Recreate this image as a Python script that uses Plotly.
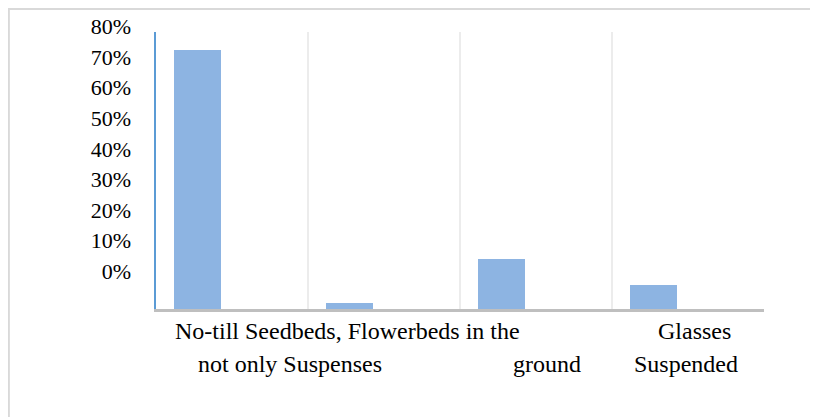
import plotly.graph_objects as go

# survey shares per planting type
categories = ["No-till Seedbeds, not only Suspenses", "Flowerbeds in the ground",
              "Glasses", "Suspended"]
shares = [0.748, 0.017, 0.144, 0.069]

# y-axis labels as printed (they sit a bit off the real scale in the original)
label_ticks = [0.0, 0.1, 0.2, 0.3, 0.4, 0.5, 0.6, 0.7, 0.8]

# category text as it wraps under the axis in the original
x_label_lines = ["No-till Seedbeds, Flowerbeds in the", "not only Suspenses",
                 "ground", "Glasses", "Suspended"]

FONT = "Liberation Serif"
BAR_COLOR = "#8db4e2"

fig = go.Figure()
fig.add_trace(go.Bar(
    x=categories, y=shares, marker_color=BAR_COLOR, marker_line_width=0,
    offset=-0.382, width=0.309, showlegend=False, hoverinfo="skip",
))
# empty trace so the label axis is registered
fig.add_trace(go.Scatter(x=[], y=[], yaxis="y2", showlegend=False))

# where each wrapped line sits (x in category units, y in paper units)
label_pos = [(0.763, -0.078), (0.382, -0.197), (2.072, -0.197),
             (3.04, -0.078), (2.99, -0.197)]
for text, (lx, ly) in zip(x_label_lines, label_pos):
    fig.add_annotation(text=text, x=lx, y=ly, xref="x", yref="paper",
                       xanchor="center", yanchor="middle", showarrow=False,
                       font=dict(family=FONT, size=24, color="#000000"))

# light outer frame of the chart area
fig.add_shape(type="rect", xref="paper", yref="paper",
              x0=-0.242, x1=1.3, y0=-0.6, y1=1.083,
              line=dict(color="#d9d9d9", width=2), layer="below")

fig.update_layout(
    width=818, height=417,
    margin=dict(l=148, r=62, t=24, b=116, autoexpand=False),
    paper_bgcolor="white", plot_bgcolor="white",
    font=dict(family=FONT, size=22, color="#000000"),
    bargap=0,
    xaxis=dict(
        type="category", range=[-0.5, 3.5], tickson="boundaries",
        showgrid=True, gridcolor="#ececec", gridwidth=2,
        showticklabels=False, ticks="", automargin=False,
        showline=True, linecolor="#bfbfbf", linewidth=3,
        zeroline=False, fixedrange=True,
    ),
    yaxis=dict(
        range=[0, 0.8], showgrid=False, zeroline=False,
        showticklabels=False, ticks="", automargin=False,
        showline=True, linecolor="#5b9bd5", linewidth=2, fixedrange=True,
    ),
    yaxis2=dict(
        overlaying="y", side="left", range=[-0.1, 0.805],
        tickvals=label_ticks, tickformat=".0%",
        showgrid=False, zeroline=False, showline=False, ticks="",
        ticklabelshift=-7, ticklabelstandoff=24, automargin=False,
        tickfont=dict(family=FONT, size=22, color="#000000"),
        fixedrange=True,
    ),
)

fig.write_html("out.html")
